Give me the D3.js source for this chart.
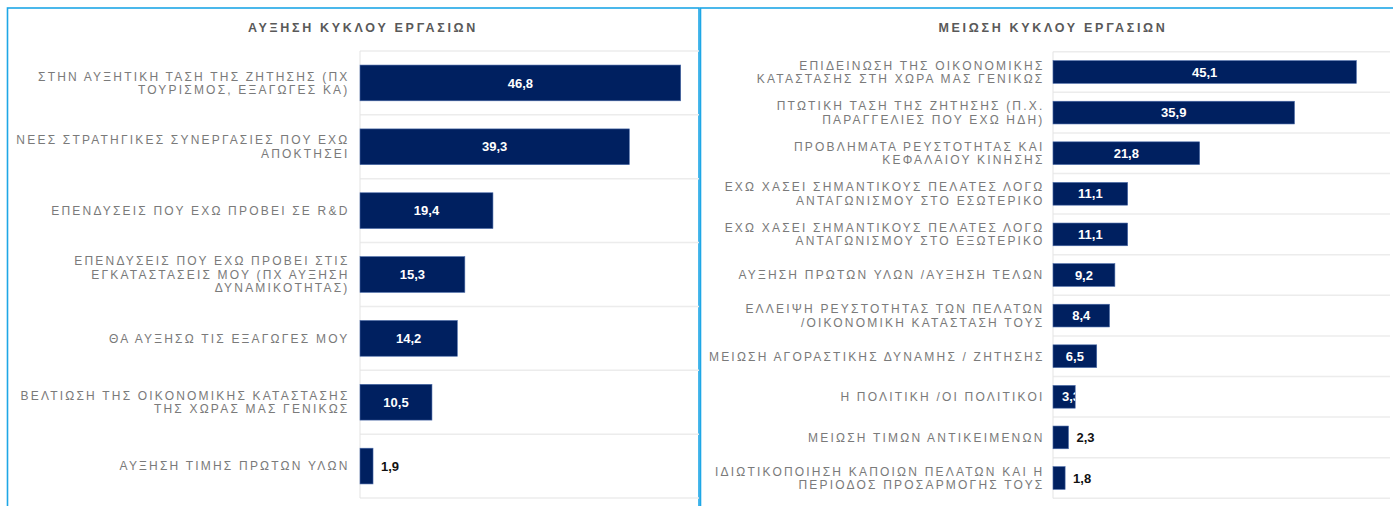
<!DOCTYPE html>
<html lang="el">
<head>
    <meta charset="UTF-8">
    <title>Κύκλος εργασιών</title>
    <script src="https://cdn.jsdelivr.net/npm/d3@7"></script>
    <style>
        body {
            margin: 0;
            background: #fff;
        }

        .label {
            font-family: "Liberation Sans", Arial, sans-serif;
            font-size: 12px;
            fill: #7a7a7a;
            letter-spacing: 2.2px;
        }

        .title {
            font-family: "Liberation Sans", Arial, sans-serif;
            font-size: 12.5px;
            font-weight: bold;
            fill: #595959;
            letter-spacing: 2.7px;
        }

        .value {
            font-family: "Liberation Sans", Arial, sans-serif;
            font-size: 13px;
            font-weight: bold;
        }

        .bar {
            fill: #002060;
            stroke: #4a6aa8;
            stroke-width: 0.6;
        }
    </style>
</head>
<body>

<div id="chart"></div>

<script>
    'use strict';

    // Left chart: increase of turnover
    const leftTitle = 'ΑΥΞΗΣΗ ΚΥΚΛΟΥ ΕΡΓΑΣΙΩΝ';
    const leftLabels = [
        'ΣΤΗΝ ΑΥΞΗΤΙΚΗ ΤΑΣΗ ΤΗΣ ΖΗΤΗΣΗΣ (ΠΧ\nΤΟΥΡΙΣΜΟΣ, ΕΞΑΓΩΓΕΣ ΚΑ)',
        'ΝΕΕΣ ΣΤΡΑΤΗΓΙΚΕΣ ΣΥΝΕΡΓΑΣΙΕΣ ΠΟΥ ΕΧΩ\nΑΠΟΚΤΗΣΕΙ',
        'ΕΠΕΝΔΥΣΕΙΣ ΠΟΥ ΕΧΩ ΠΡΟΒΕΙ ΣΕ R&D',
        'ΕΠΕΝΔΥΣΕΙΣ ΠΟΥ ΕΧΩ ΠΡΟΒΕΙ ΣΤΙΣ\nΕΓΚΑΤΑΣΤΑΣΕΙΣ ΜΟΥ (ΠΧ ΑΥΞΗΣΗ\nΔΥΝΑΜΙΚΟΤΗΤΑΣ)',
        'ΘΑ ΑΥΞΗΣΩ ΤΙΣ ΕΞΑΓΩΓΕΣ ΜΟΥ',
        'ΒΕΛΤΙΩΣΗ ΤΗΣ ΟΙΚΟΝΟΜΙΚΗΣ ΚΑΤΑΣΤΑΣΗΣ\nΤΗΣ ΧΩΡΑΣ ΜΑΣ ΓΕΝΙΚΩΣ',
        'ΑΥΞΗΣΗ ΤΙΜΗΣ ΠΡΩΤΩΝ ΥΛΩΝ'
    ];
    const leftValues = [46.8, 39.3, 19.4, 15.3, 14.2, 10.5, 1.9];

    // Right chart: decrease of turnover
    const rightTitle = 'ΜΕΙΩΣΗ ΚΥΚΛΟΥ ΕΡΓΑΣΙΩΝ';
    const rightLabels = [
        'ΕΠΙΔΕΙΝΩΣΗ ΤΗΣ ΟΙΚΟΝΟΜΙΚΗΣ\nΚΑΤΑΣΤΑΣΗΣ ΣΤΗ ΧΩΡΑ ΜΑΣ ΓΕΝΙΚΩΣ',
        'ΠΤΩΤΙΚΗ ΤΑΣΗ ΤΗΣ ΖΗΤΗΣΗΣ (Π.Χ.\nΠΑΡΑΓΓΕΛΙΕΣ ΠΟΥ ΕΧΩ ΗΔΗ)',
        'ΠΡΟΒΛΗΜΑΤΑ ΡΕΥΣΤΟΤΗΤΑΣ ΚΑΙ\nΚΕΦΑΛΑΙΟΥ ΚΙΝΗΣΗΣ',
        'ΕΧΩ ΧΑΣΕΙ ΣΗΜΑΝΤΙΚΟΥΣ ΠΕΛΑΤΕΣ ΛΟΓΩ\nΑΝΤΑΓΩΝΙΣΜΟΥ ΣΤΟ ΕΣΩΤΕΡΙΚΟ',
        'ΕΧΩ ΧΑΣΕΙ ΣΗΜΑΝΤΙΚΟΥΣ ΠΕΛΑΤΕΣ ΛΟΓΩ\nΑΝΤΑΓΩΝΙΣΜΟΥ ΣΤΟ ΕΞΩΤΕΡΙΚΟ',
        'ΑΥΞΗΣΗ ΠΡΩΤΩΝ ΥΛΩΝ /ΑΥΞΗΣΗ ΤΕΛΩΝ',
        'ΕΛΛΕΙΨΗ ΡΕΥΣΤΟΤΗΤΑΣ ΤΩΝ ΠΕΛΑΤΩΝ\n/ΟΙΚΟΝΟΜΙΚΗ ΚΑΤΑΣΤΑΣΗ ΤΟΥΣ',
        'ΜΕΙΩΣΗ ΑΓΟΡΑΣΤΙΚΗΣ ΔΥΝΑΜΗΣ / ΖΗΤΗΣΗΣ',
        'Η ΠΟΛΙΤΙΚΗ /ΟΙ ΠΟΛΙΤΙΚΟΙ',
        'ΜΕΙΩΣΗ ΤΙΜΩΝ ΑΝΤΙΚΕΙΜΕΝΩΝ',
        'ΙΔΙΩΤΙΚΟΠΟΙΗΣΗ ΚΑΠΟΙΩΝ ΠΕΛΑΤΩΝ ΚΑΙ Η\nΠΕΡΙΟΔΟΣ ΠΡΟΣΑΡΜΟΓΗΣ ΤΟΥΣ'
    ];
    const rightValues = [45.1, 35.9, 21.8, 11.1, 11.1, 9.2, 8.4, 6.5, 3.3, 2.3, 1.8];

    const width = 1393;
    const height = 506;
    const fmt = v => d3.format('.1f')(v).replace('.', ',');

    const svg = d3.select('#chart').append('svg')
        .attr('width', width)
        .attr('height', height);

    svg.append('rect').attr('width', width).attr('height', height).attr('fill', '#fff');

    function drawPanel(id, title, labels, values, o) {
        const g = svg.append('g');

        // panel frame
        g.append('rect')
            .attr('x', o.left).attr('y', 8)
            .attr('width', o.right - o.left).attr('height', height)
            .attr('fill', 'none')
            .attr('stroke', '#1ea7e6')
            .attr('stroke-width', 1.6);

        g.append('text')
            .attr('class', 'title')
            .attr('x', o.titleX).attr('y', 31.5)
            .attr('text-anchor', 'middle')
            .text(title);

        const x = d3.scaleLinear().domain([0, o.xMax]).range([o.x0, o.x1]);
        const y = d3.scaleBand()
            .domain(d3.range(values.length))
            .range([o.y0, o.y1])
            .paddingInner(0.44)
            .paddingOuter(0.22);
        const step = y.step();

        // row separators
        g.selectAll('.sep').data(d3.range(values.length + 1)).enter().append('line')
            .attr('x1', x(0)).attr('x2', o.x1)
            .attr('y1', i => o.y0 + i * step).attr('y2', i => o.y0 + i * step)
            .attr('stroke', '#ececec')
            .attr('stroke-width', 1.5);

        g.append('line')
            .attr('x1', x(0)).attr('x2', x(0))
            .attr('y1', o.y0).attr('y2', o.y1)
            .attr('stroke', '#e3e3e3');

        // category labels
        const lh = 13.4;
        labels.forEach((lab, i) => {
            const lines = lab.split('\n');
            const cy = y(i) + y.bandwidth() / 2;
            const t = g.append('text')
                .attr('class', 'label')
                .attr('text-anchor', 'end')
                .attr('y', cy - (lines.length - 1) * lh / 2 + 4.3);
            lines.forEach((ln, k) => {
                t.append('tspan')
                    .attr('x', o.labelX)
                    .attr('dy', k === 0 ? 0 : lh)
                    .text(ln);
            });
        });

        // bars
        g.selectAll('.bar').data(values).enter().append('rect')
            .attr('class', 'bar')
            .attr('x', x(0))
            .attr('y', (d, i) => y(i))
            .attr('width', d => x(d) - x(0))
            .attr('height', y.bandwidth());

        const defs = svg.append('defs');
        values.forEach((v, i) => {
            const cy = y(i) + y.bandwidth() / 2 + 4.6;
            if (v >= 3) {
                defs.append('clipPath').attr('id', id + i).append('rect')
                    .attr('x', x(0)).attr('y', y(i))
                    .attr('width', x(v) - x(0)).attr('height', y.bandwidth());
                const t = g.append('text')
                    .attr('class', 'value')
                    .attr('clip-path', 'url(#' + id + i + ')')
                    .attr('fill', '#fff')
                    .attr('text-anchor', 'middle')
                    .attr('y', cy)
                    .text(fmt(v));
                const w = t.node().getComputedTextLength();
                t.attr('x', Math.max((x(0) + x(v)) / 2, x(0) + 9 + w / 2));
            } else {
                g.append('text')
                    .attr('class', 'value')
                    .attr('fill', '#111')
                    .attr('x', x(v) + 8)
                    .attr('y', cy)
                    .text(fmt(v));
            }
        });
    }

    drawPanel('l', leftTitle, leftLabels, leftValues, {
        left: 7.5, right: 699, titleX: 363, labelX: 349.5,
        x0: 360, x1: 699, xMax: 49.47, y0: 51, y1: 498
    });

    drawPanel('r', rightTitle, rightLabels, rightValues, {
        left: 700.5, right: 1400, titleX: 1053, labelX: 1044.5,
        x0: 1053, x1: 1390, xMax: 50.1, y0: 51.7, y1: 498.3
    });
</script>

</body>
</html>
